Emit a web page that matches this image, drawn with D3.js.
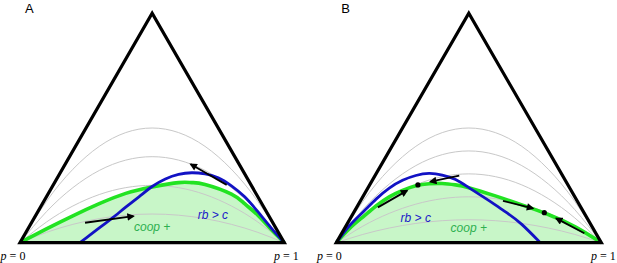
<!DOCTYPE html>
<html><head><meta charset="utf-8">
<script src="https://cdn.jsdelivr.net/npm/d3@7"></script>
<style>body{margin:0;background:#fff}svg{display:block}</style>
</head><body>
<svg id="c" width="617" height="263"></svg>
<script>
// p positions for the grey iso-curves
const gridP = [0, .1, .2, .3, .4, .5, .6, .7, .8, .9, 1];
// grey curves, heights (heterozygote fraction) at gridP
const greyA = [
  [0, .18, .32, .42, .48, .5, .48, .42, .32, .18, 0],
  [0, .135, .24, .315, .36, .375, .36, .315, .24, .135, 0],
  [0, .09, .16, .21, .24, .25, .24, .21, .16, .09, 0],
  [0, .045, .08, .105, .12, .125, .12, .105, .08, .045, 0]
];
const greyB = [
  [0, .18, .32, .42, .48, .5, .48, .42, .32, .18, 0],
  [0, .144, .256, .336, .384, .4, .384, .336, .256, .144, 0],
  [0, .108, .192, .252, .288, .3, .288, .252, .192, .108, 0],
  [0, .072, .128, .168, .192, .2, .192, .168, .128, .072, 0],
  [0, .036, .064, .084, .096, .1, .096, .084, .064, .036, 0]
];
// green (coop +) boundary [p, h]
const greenA = [[0,0],[.1,.06],[.2,.117],[.3,.17],[.4,.215],[.5,.243],[.6,.262],[.65,.262],[.7,.254],[.8,.212],[.85,.17],[.9,.12],[.95,.058],[1,0]];
const greenB = [[0,0],[.05,.062],[.1,.112],[.15,.16],[.2,.2],[.25,.228],[.3,.248],[.35,.257],[.4,.258],[.45,.252],[.5,.24],[.6,.204],[.7,.165],[.8,.123],[.9,.07],[1,0]];
// blue (rb > c) boundary [p, h]
const blueA = [[.227,0],[.3,.065],[.35,.108],[.4,.155],[.45,.2],[.5,.245],[.55,.278],[.6,.298],[.65,.305],[.7,.3],[.75,.283],[.8,.248],[.85,.2],[.9,.135],[.95,.065],[1,0]];
const blueB = [[0,0],[.05,.075],[.1,.133],[.15,.19],[.2,.238],[.25,.272],[.3,.293],[.35,.302],[.4,.295],[.45,.275],[.5,.24],[.55,.203],[.6,.165],[.65,.125],[.7,.08],[.77,0]];
// arrows [[p0,h0],[p1,h1]]
const arrowsA = [[[.246,.087],[.429,.116]], [[.782,.252],[.646,.342]]];
const arrowsB = [[[.157,.154],[.267,.227]], [[.464,.292],[.355,.266]], [[.629,.182],[.742,.15]], [[.936,.041],[.83,.106]]];
// equilibrium dots
const dotsA = [];
const dotsB = [[.308,.252],[.785,.131]];
const panels = [
  {label:"A", grey:greyA, green:greenA, blue:blueA, arrows:arrowsA, dots:dotsA, x:[20,284.3], rb:[.73,.105], coop:[.5,.052]},
  {label:"B", grey:greyB, green:greenB, blue:blueB, arrows:arrowsB, dots:dotsB, x:[336.3,601.3], rb:[.3,.09], coop:[.5,.048]}
];
const svg = d3.select("#c");
const defs = svg.append("defs");
defs.append("marker").attr("id","ah").attr("viewBox","0 0 10 10").attr("refX",8).attr("refY",5)
  .attr("markerWidth",4.6).attr("markerHeight",4.2).attr("orient","auto").attr("markerUnits","strokeWidth")
  .append("path").attr("d","M0,0L10,5L0,10z").attr("fill","#000");

panels.forEach(P => {
  const x = d3.scaleLinear().domain([0,1]).range(P.x);
  const y = d3.scaleLinear().domain([0,1]).range([242.7,13.3]);
  const g = svg.append("g");
  const line = d3.line().x(d=>x(d[0])).y(d=>y(d[1])).curve(d3.curveNatural);
  const area = d3.area().x(d=>x(d[0])).y0(y(0)).y1(d=>y(d[1])).curve(d3.curveNatural);
  g.append("path").attr("d", area(P.green)).attr("fill","#c8f6c8");
  P.grey.forEach(hs => {
    g.append("path").attr("d", line(gridP.map((p,i)=>[p,hs[i]]))).attr("fill","none")
      .attr("stroke","#c8c8c8").attr("stroke-width",1);
  });
  g.append("path").attr("d", line(P.green)).attr("fill","none").attr("stroke","#22e322").attr("stroke-width",3.6);
  g.append("path").attr("d", line(P.blue)).attr("fill","none").attr("stroke","#1212c4").attr("stroke-width",2.8);
  g.append("path").attr("d", d3.line().x(d=>x(d[0])).y(d=>y(d[1]))([[0,0],[1,0],[.5,1]]) + "Z")
    .attr("fill","none").attr("stroke","#000").attr("stroke-width",3.2).attr("stroke-linejoin","miter");
  P.arrows.forEach(a => {
    g.append("line").attr("x1",x(a[0][0])).attr("y1",y(a[0][1])).attr("x2",x(a[1][0])).attr("y2",y(a[1][1]))
      .attr("stroke","#000").attr("stroke-width",1.8).attr("marker-end","url(#ah)");
  });
  P.dots.forEach(d => g.append("circle").attr("cx",x(d[0])).attr("cy",y(d[1])).attr("r",2.6).attr("fill","#000"));
  g.append("text").attr("x",x(P.rb[0])).attr("y",y(P.rb[1])).attr("text-anchor","middle")
    .attr("font-family","Liberation Sans, Arial, sans-serif").attr("font-style","italic").attr("font-size",12)
    .attr("fill","#2020c8").text("rb > c");
  g.append("text").attr("x",x(P.coop[0])).attr("y",y(P.coop[1])).attr("text-anchor","middle")
    .attr("font-family","Liberation Sans, Arial, sans-serif").attr("font-style","italic").attr("font-size",12)
    .attr("fill","#2eb050").text("coop +");
  g.append("text").attr("x",P.x[0]+5).attr("y",13.3).attr("font-family","Liberation Sans, Arial, sans-serif")
    .attr("font-size",13).attr("fill","#000").text(P.label);
  [[0,"0"],[1,"1"]].forEach(([p,t]) => {
    const tx = g.append("text").attr("x",x(p)+ (p===0?-7:2)).attr("y",260).attr("text-anchor","middle")
      .attr("font-family","Liberation Serif, DejaVu Serif, serif").attr("font-size",12).attr("fill","#000");
    tx.append("tspan").attr("font-style","italic").text("p");
    tx.append("tspan").text(" = " + t);
  });
});
</script>
</body></html>
